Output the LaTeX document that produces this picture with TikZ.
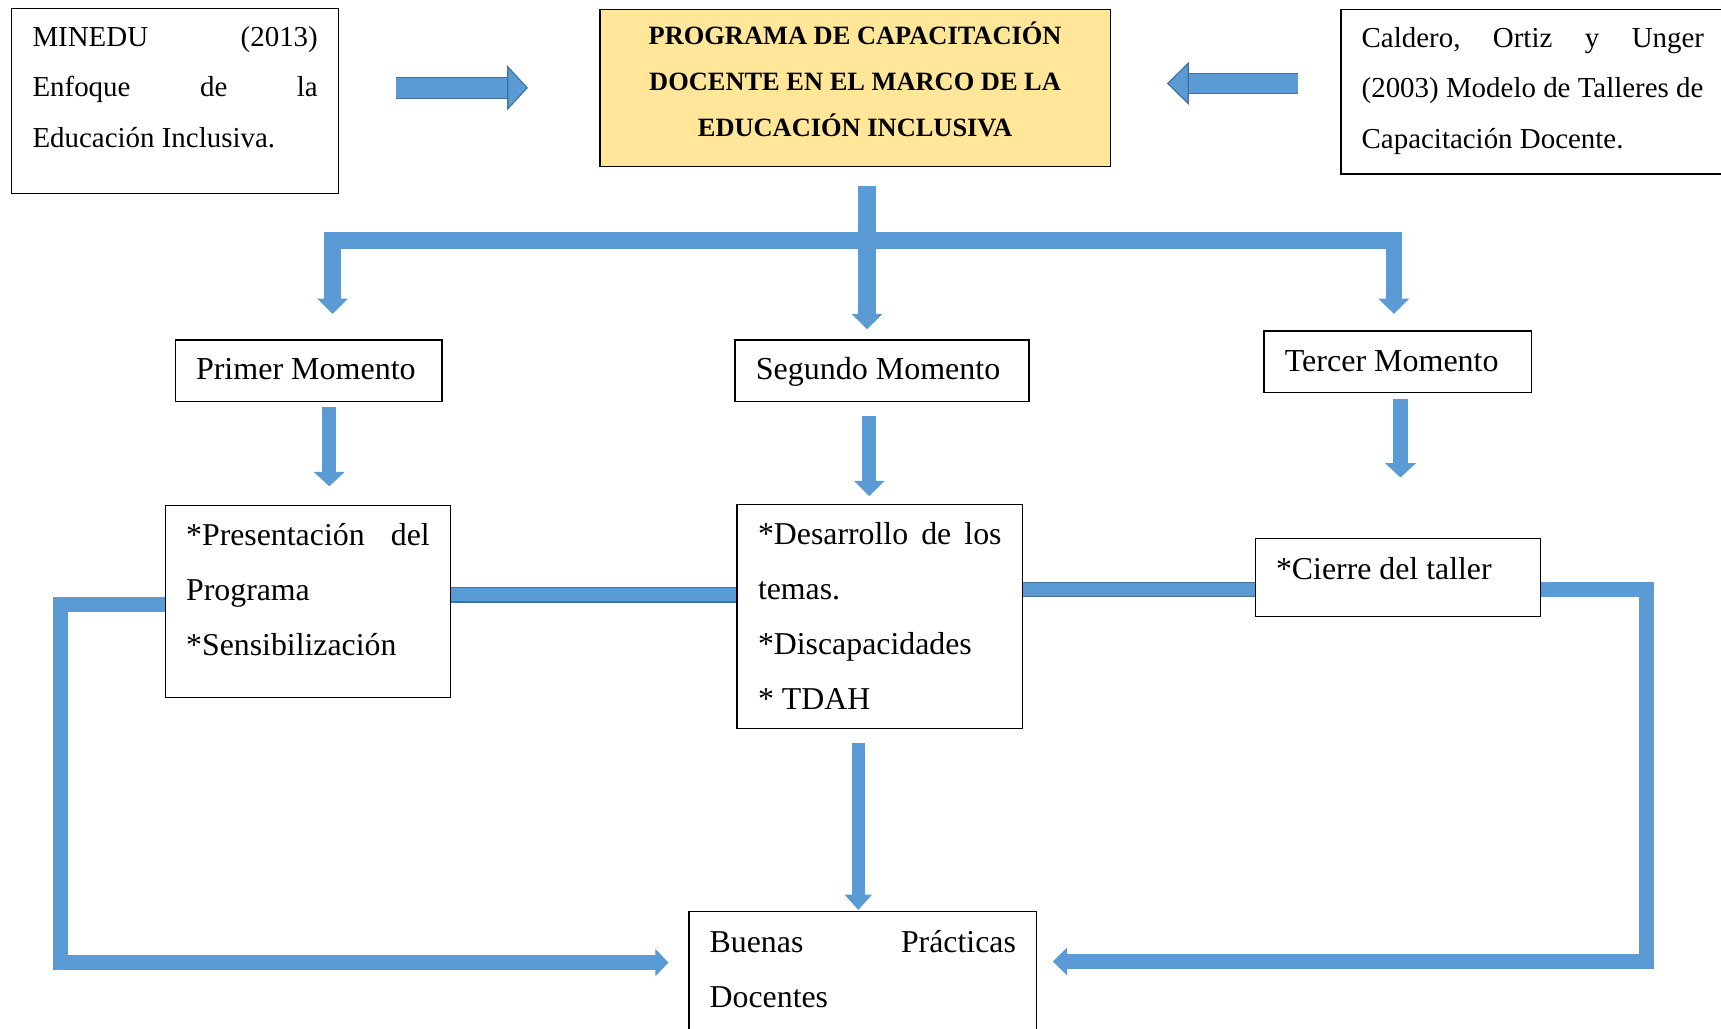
\documentclass[tikz,border=0pt]{standalone}
\usepackage{fontspec}
\setmainfont{Liberation Serif}
\usetikzlibrary{arrows.meta}
\definecolor{arrowBlue}{HTML}{5B9BD5}
\definecolor{arrowEdge}{HTML}{41719C}
\definecolor{titleYellow}{HTML}{FFE699}
\newcommand{\boxText}[4]{\parbox[c][#2][t]{#1}{\rule{0pt}{#3}#4}}

\begin{document}
\begin{tikzpicture}[x=0.02cm, y=-0.02cm]
  \tikzset{
    box/.style={draw, line width=0.7pt, anchor=north west, inner xsep=0.38cm, inner ysep=0pt},
    refBox/.style={box, font=\fontsize{15}{26.2}\selectfont},
    titleBox/.style={box, fill=titleYellow, font=\fontsize{13.7}{23.9}\selectfont\bfseries},
    momentBox/.style={box, font=\fontsize{16.6}{28.5}\selectfont},
    topicBox/.style={box, font=\fontsize{16.5}{28.5}\selectfont},
    blockArrow/.style n args={3}{draw=arrowBlue, line width=#1, -{Triangle[width=#2, length=#3, line width=0.5pt]}},
    edgedArrow/.style n args={3}{draw=arrowEdge, line width=0.6pt, double=arrowBlue, double distance=#1, -{Triangle[width=#2, length=#3, line width=0.6pt, fill=arrowBlue]}},
    edgedLine/.style={draw=arrowEdge, line width=0.6pt, double=arrowBlue, double distance=#1}
  }
  \useasboundingbox (0,0) rectangle (1568,937);
  \clip (0,0) rectangle (1568,937);

  \node[refBox] (minedu) at (10,7) {\boxText{5.2cm}{3.38cm}{0.69cm}{MINEDU\hfill(2013)\\Enfoque\hfill de\hfill la\\Educación Inclusiva.}};
  \node[titleBox] (title) at (546,8) {\boxText{8.54cm}{2.86cm}{0.64cm}{\centering PROGRAMA DE CAPACITACIÓN\\DOCENTE EN EL MARCO DE LA\\EDUCACIÓN INCLUSIVA}};
  \node[refBox] (caldero) at (1221,8) {\boxText{6.24cm}{3.0cm}{0.69cm}{Caldero,\hfill Ortiz\hfill y\hfill Unger\\(2003) Modelo de Talleres de\\Capacitación Docente.}};

  \node[momentBox] (primer) at (159,309) {\boxText{4.1cm}{1.12cm}{0.73cm}{Primer Momento}};
  \node[momentBox] (segundo) at (669,309) {\boxText{4.6cm}{1.12cm}{0.73cm}{Segundo Momento}};
  \node[momentBox] (tercer) at (1151,301) {\boxText{4.12cm}{1.12cm}{0.73cm}{Tercer Momento}};

  \node[topicBox] (presentacion) at (150,460) {\boxText{4.44cm}{3.5cm}{0.73cm}{*Presentación\hfill del\\Programa\\{}*Sensibilización}};
  \node[topicBox] (desarrollo) at (671,459) {\boxText{4.44cm}{4.08cm}{0.73cm}{*Desarrollo\hfill de\hfill los\\temas.\\{}*Discapacidades\\{}* TDAH}};
  \node[topicBox] (cierre) at (1143,490) {\boxText{4.44cm}{1.42cm}{0.75cm}{*Cierre del taller}};
  \node[topicBox] (buenas) at (627,830) {\boxText{5.58cm}{2.6cm}{0.75cm}{Buenas\hfill Prácticas\\Docentes}};

  \coordinate (split) at (790,219);
  \coordinate (leftTurn) at (303,219);
  \coordinate (rightTurn) at (1270,219);

  \draw[edgedArrow={0.36cm}{0.82cm}{0.38cm}, shorten <=1.04cm, shorten >=1.3cm] (minedu.east |- 0,80) -- (title.west |- 0,80);
  \draw[edgedArrow={0.34cm}{0.78cm}{0.4cm}, shorten <=0.76cm, shorten >=1.02cm] (caldero.west |- 0,76) -- (title.east |- 0,76);

  \draw[blockArrow={0.32cm}{0.56cm}{0.28cm}, shorten <=0.34cm, shorten >=0.18cm] (split |- title.south) -- (split |- segundo.north);
  \draw[blockArrow={0.3cm}{0.56cm}{0.28cm}, shorten >=0.46cm] (split) -- (leftTurn) -- (leftTurn |- primer.north);
  \draw[blockArrow={0.3cm}{0.56cm}{0.28cm}, shorten >=0.3cm] (split) -- (rightTurn) -- (rightTurn |- tercer.north);

  \draw[blockArrow={0.26cm}{0.56cm}{0.26cm}, shorten <=0.1cm, shorten >=0.34cm] (primer.south -| 300,0) -- (presentacion.north -| 300,0);
  \draw[blockArrow={0.26cm}{0.56cm}{0.28cm}, shorten <=0.26cm, shorten >=0.14cm] (segundo.south -| 792,0) -- (desarrollo.north -| 792,0);
  \draw[blockArrow={0.26cm}{0.56cm}{0.26cm}, shorten <=0.1cm, shorten >=1.1cm] (tercer.south -| 1276,0) -- (cierre.north -| 1276,0);
  \draw[blockArrow={0.24cm}{0.5cm}{0.28cm}, shorten <=0.26cm, shorten >=0.02cm] (desarrollo.south -| 782,0) -- (buenas.north -| 782,0);

  \draw[edgedLine=0.24cm] (presentacion.east |- 0,542) -- (desarrollo.west |- 0,542);
  \draw[edgedLine=0.24cm] (desarrollo.east |- 0,537) -- (cierre.west |- 0,537);

  \draw[blockArrow={0.28cm}{0.5cm}{0.24cm}, shorten >=0.36cm] (presentacion.west |- 0,551) -- (55,551) -- (55,877) -- (buenas.west |- 0,877);
  \draw[blockArrow={0.27cm}{0.5cm}{0.26cm}, shorten >=0.28cm] (cierre.east |- 0,537) -- (1500,537) -- (1500,876) -- (buenas.east |- 0,876);
\end{tikzpicture}
\end{document}
